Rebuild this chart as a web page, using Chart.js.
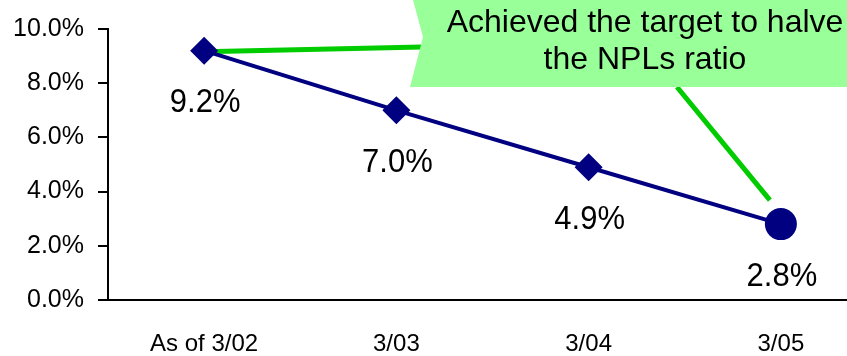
<!DOCTYPE html>
<html>
<head>
<meta charset="utf-8">
<script src="https://cdn.jsdelivr.net/npm/chart.js@4.4.0/dist/chart.umd.min.js"></script>
<style>
  html, body { margin: 0; padding: 0; background: #fff; overflow: hidden; }
  #wrap { width: 877px; height: 356px; }
</style>
</head>
<body>
<div id="wrap"><canvas id="myChart" width="877" height="356"></canvas></div>
<script>
const periods = ["As of 3/02", "3/03", "3/04", "3/05"];
const nplRatio = [9.2, 7.0, 4.9, 2.8];
const markerStyles = ["rectRot", "rectRot", "rectRot", "circle"];
const calloutLines = ["Achieved the target to halve", "the NPLs ratio"];

const FONT = "'Liberation Sans', Arial, sans-serif";

// value labels under each point
const valueLabels = {
  id: "valueLabels",
  afterDatasetsDraw(chart) {
    const ctx = chart.ctx;
    const meta = chart.getDatasetMeta(0);
    ctx.save();
    ctx.fillStyle = "#000";
    ctx.font = "31px " + FONT;
    ctx.textAlign = "center";
    ctx.textBaseline = "middle";
    meta.data.forEach((pt, i) => {
      ctx.save();
      ctx.translate(pt.x + 1, pt.y + 52);
      ctx.scale(1, 1.1);
      ctx.fillText(nplRatio[i].toFixed(1) + "%", 0, 0);
      ctx.restore();
    });
    ctx.restore();
  }
};

// green callout box with its two pointer lines
const callout = {
  id: "callout",
  beforeDatasetsDraw(chart) {
    const ctx = chart.ctx;
    const pts = chart.getDatasetMeta(0).data;
    const first = pts[0];
    const last = pts[pts.length - 1];
    ctx.save();
    ctx.strokeStyle = "#00cc00";
    ctx.lineWidth = 5;
    ctx.beginPath();
    ctx.moveTo(first.x, first.y + 1);
    ctx.lineTo(422, 47);
    ctx.moveTo(677, 87);
    ctx.lineTo(last.x - 11, last.y - 24);
    ctx.stroke();

    ctx.fillStyle = "#99ff99";
    ctx.beginPath();
    ctx.moveTo(413, 0);
    ctx.lineTo(423, 37);
    ctx.lineTo(410, 87);
    ctx.lineTo(chart.width, 87);
    ctx.lineTo(chart.width, 0);
    ctx.closePath();
    ctx.fill();

    ctx.fillStyle = "#000";
    ctx.font = "32px " + FONT;
    ctx.textAlign = "center";
    ctx.textBaseline = "middle";
    ctx.fillText(calloutLines[0], 645, 23);
    ctx.fillText(calloutLines[1], 645, 60);
    ctx.restore();
  }
};

const ctx = document.getElementById("myChart");
new Chart(ctx, {
  type: "line",
  data: {
    labels: periods,
    datasets: [
      {
        label: "NPL ratio",
        data: nplRatio,
        borderColor: "#000080",
        backgroundColor: "#000080",
        borderWidth: 4,
        pointStyle: markerStyles,
        pointRadius: [14, 14, 14, 16],
        pointBorderWidth: 0,
        tension: 0,
        fill: false
      }
    ]
  },
  options: {
    responsive: false,
    animation: false,
    layout: { autoPadding: false, padding: { top: 28, left: 0, right: 0, bottom: 0 } },
    plugins: {
      legend: { display: false },
      tooltip: { enabled: false }
    },
    scales: {
      x: {
        offset: true,
        grid: { display: false, drawTicks: false },
        border: { display: true, color: "#000", width: 2 },
        ticks: {
          color: "#000",
          padding: 30,
          maxRotation: 0,
          font: { family: FONT, size: 24 }
        },
        afterFit(scale) { scale.height = 56; }
      },
      y: {
        min: 0,
        max: 10,
        grid: { drawOnChartArea: false, color: "#000", lineWidth: 2, tickLength: 10 },
        border: { display: true, color: "#000", width: 2 },
        ticks: {
          stepSize: 2,
          color: "#000",
          padding: 14,
          font: { family: FONT, size: 25 },
          callback: (v) => v.toFixed(1) + "%"
        },
        afterFit(scale) { scale.width = 108; }
      }
    }
  },
  plugins: [callout, valueLabels]
});
</script>
</body>
</html>
